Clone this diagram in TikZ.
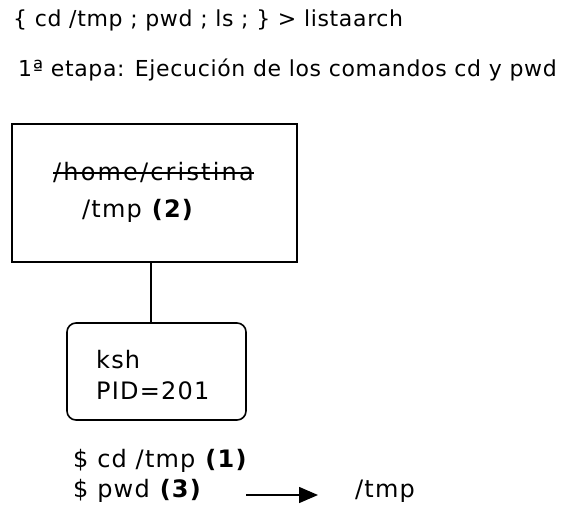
\documentclass[tikz,border=0pt]{standalone}
\usepackage{fontspec}
\setmainfont{DejaVu Sans}
\usetikzlibrary{arrows.meta}
% text sizes (1pt = one unit of the drawing)
\newcommand\hdrfont{\fontsize{22}{26}\selectfont\addfontfeatures{LetterSpace=3}}
\newcommand\lblfont{\fontsize{24}{28}\selectfont\addfontfeatures{LetterSpace=5}}
\newcommand\wdfont{\fontsize{24}{28}\selectfont\addfontfeatures{LetterSpace=9}}
\begin{document}
\begin{tikzpicture}[x=1pt,y=-1pt,
  txt/.style={anchor=base west, inner sep=0pt, text=black},
  frame/.style={draw, line width=1.6pt, inner sep=0pt},
  link/.style={line width=1.4pt},
  outarrow/.style={line width=1.5pt, -{Triangle[length=19pt,width=16pt]}}]
\useasboundingbox (0,0) rectangle (564,505);

% command line and stage title
\node[txt, font=\hdrfont] (cmd) at (13,27) {\{ cd /tmp ; pwd ; ls ; \} > listaarch};
\node[txt, font=\hdrfont] (stage) at (18,77) {1ª etapa: Ejecución de los comandos cd y pwd};

% current directory box
\node[frame, minimum width=285pt, minimum height=138pt] (dir) at (154.5,193) {};
\node[txt, font=\wdfont] (olddir) at (53,180) {/home/cristina};
\draw[line width=1.2pt] ([yshift=7pt]olddir.base west) -- ([yshift=7pt]olddir.base east);
\node[txt, font=\lblfont] (newdir) at (82,217) {/tmp \textbf{(2)}};

% process box
\node[frame, rounded corners=9pt, minimum width=179pt, minimum height=97pt] (proc) at (156.5,371.5) {};
\node[txt, font=\lblfont] (sh) at (96,368) {ksh};
\node[txt, font=\lblfont] (pid) at (96,399) {PID=201};

\coordinate (stem) at (151,0);
\draw[link] (dir.south -| stem) -- (proc.north -| stem);

% commands and output
\node[txt, font=\lblfont] (cd) at (73,467) {\$ cd /tmp \textbf{(1)}};
\node[txt, font=\lblfont] (pwd) at (73,497) {\$ pwd \textbf{(3)}};
\node[txt, font=\lblfont] (out) at (355,497) {/tmp};
\coordinate (a0) at (246,495);
\coordinate (a1) at (318,495);
\draw[outarrow] (a0) -- (a1);
\end{tikzpicture}
\end{document}
